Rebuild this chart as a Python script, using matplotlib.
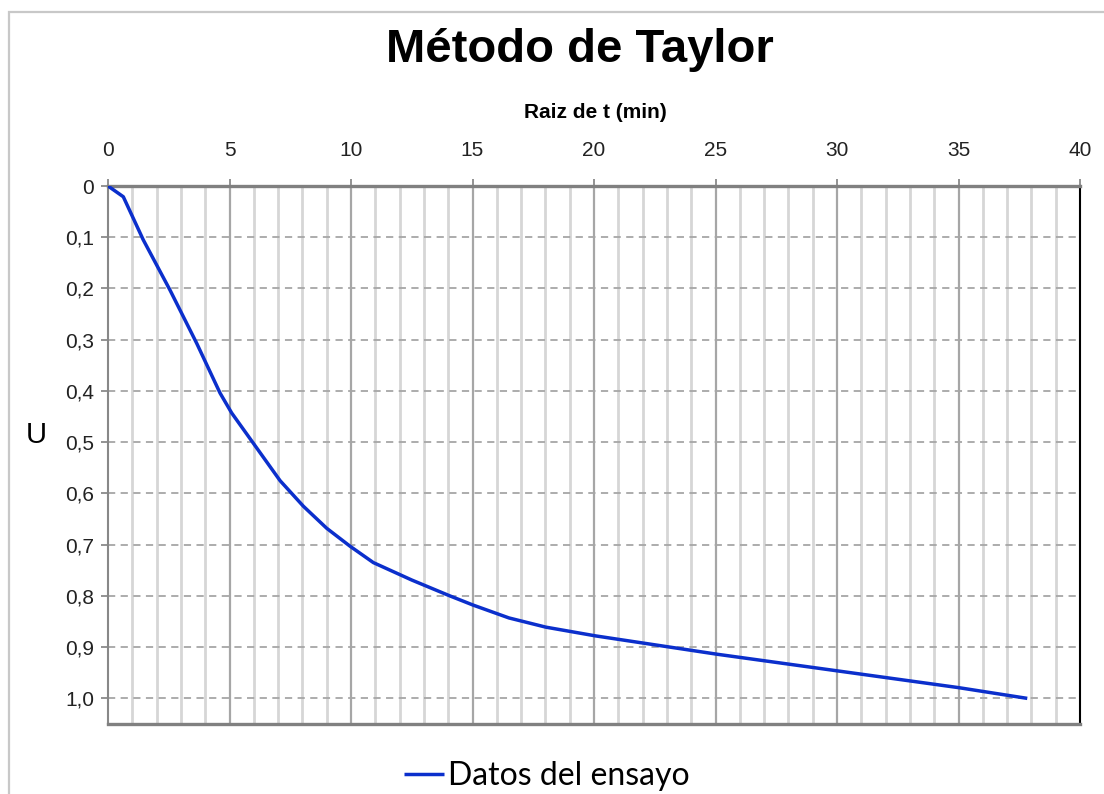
import matplotlib
matplotlib.use("Agg")
import matplotlib.pyplot as plt
from matplotlib.patches import Rectangle
from matplotlib.ticker import FixedLocator, FixedFormatter

# Data
raiz_t = [0, 0.63, 1.45, 2.55, 3.65, 4.61, 5.09, 5.98, 7.08, 8.04, 9.0, 9.96,
          10.92, 12.5, 14.07, 15.03, 16.5, 18.02, 20.06, 25.09, 29.97, 35.0, 37.83]
U = [0, 0.021, 0.105, 0.203, 0.307, 0.404, 0.443, 0.502, 0.575, 0.625, 0.668, 0.703,
     0.735, 0.769, 0.80, 0.818, 0.843, 0.861, 0.878, 0.914, 0.946, 0.979, 1.0]
x_ticks = [0, 5, 10, 15, 20, 25, 30, 35, 40]
y_ticks = [0, 0.1, 0.2, 0.3, 0.4, 0.5, 0.6, 0.7, 0.8, 0.9, 1.0]
y_tick_labels = ["0", "0,1", "0,2", "0,3", "0,4", "0,5", "0,6", "0,7", "0,8", "0,9", "1,0"]

W, H = 1104, 794
fig = plt.figure(figsize=(W / 100, H / 100), dpi=100)
fig.patch.set_facecolor("white")

# outer chart frame
fig.patches.append(Rectangle((9 / W, -0.05), 1.2, 1 - 12 / H + 0.05,
                             transform=fig.transFigure, fill=False,
                             edgecolor="#c8c8c8", linewidth=1.6, zorder=0))

left, right, top, bottom = 108, 1080, 186, 724
ax = fig.add_axes([left / W, 1 - bottom / H, (right - left) / W, (bottom - top) / H])

ax.set_xlim(0, 40)
ax.set_ylim(1.05, 0)

# grid lines
for v in range(1, 40):
    if v % 5 == 0:
        ax.axvline(v, color="#a6a6a6", linewidth=1.6, zorder=1)
    else:
        ax.axvline(v, color="#d6d6d6", linewidth=2.0, zorder=1)
for yv in y_ticks[1:]:
    ax.axhline(yv, color="#a6a6a6", linewidth=1.3, linestyle=(0, (4, 3)), zorder=1.5)

line, = ax.plot(raiz_t, U, color="#0b2fcc", linewidth=2.5, zorder=3,
                solid_capstyle="butt", solid_joinstyle="round", label="Datos del ensayo")

ax.xaxis.tick_top()
ax.xaxis.set_major_locator(FixedLocator(x_ticks))
ax.yaxis.set_major_locator(FixedLocator(y_ticks))
ax.yaxis.set_major_formatter(FixedFormatter(y_tick_labels))
ax.tick_params(axis="x", which="major", direction="out", length=5, width=1.2,
               color="#808080", pad=14, labelsize=15, labelcolor="#222222")
ax.tick_params(axis="y", which="major", direction="out", length=5, width=1.2,
               color="#808080", pad=5, labelsize=15, labelcolor="#222222")
for lab in ax.get_xticklabels() + ax.get_yticklabels():
    lab.set_fontfamily("Liberation Sans")

ax.spines["left"].set_color("#888888")
ax.spines["left"].set_linewidth(1.5)
ax.spines["top"].set_color("#808080")
ax.spines["top"].set_linewidth(2.4)
ax.spines["bottom"].set_color("#808080")
ax.spines["bottom"].set_linewidth(2.4)
ax.spines["right"].set_color("#000000")
ax.spines["right"].set_linewidth(1.5)

# titles
fig.text(580 / W, 1 - 50 / H, "Método de Taylor", ha="center", va="center",
         fontsize=34, fontweight="bold", family="Liberation Sans", color="black")
fig.text(595 / W, 1 - 113 / H, "Raiz de t (min)", ha="center", va="center",
         fontsize=15, fontweight="bold", family="Liberation Sans", color="black")
fig.text(36 / W, 1 - 435 / H, "U", ha="center", va="center",
         fontsize=21, family="Liberation Sans", color="black")

leg = fig.legend(handles=[line], loc="center", bbox_to_anchor=(547 / W, 1 - 776 / H),
                 frameon=False, prop={"family": "Lato", "size": 23},
                 handlelength=1.25, handletextpad=0.12, borderaxespad=0)

fig.savefig("out.png", dpi=100, facecolor="white")
